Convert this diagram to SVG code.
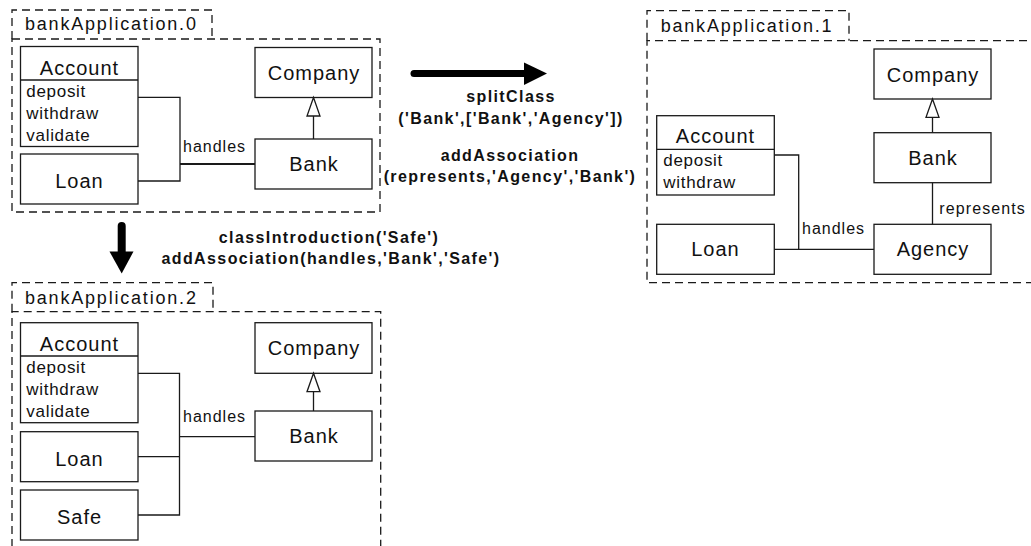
<svg xmlns="http://www.w3.org/2000/svg" width="1031" height="546" viewBox="0 0 1031 546">
  <style>
    .pkg { fill: none; stroke: #1a1a1a; stroke-width: 1.3; stroke-dasharray: 8 5; }
    .box { fill: #fff; stroke: #1a1a1a; stroke-width: 1.3; }
    .ln { fill: none; stroke: #1a1a1a; stroke-width: 1.3; }
    .tri { fill: #fff; stroke: #1a1a1a; stroke-width: 1.3; }
    text { font-family: "Liberation Sans", Arial, sans-serif; fill: #111; }
    .pname { font-size: 18px; letter-spacing: 1.8px; }
    .cname { font-size: 20px; letter-spacing: 1px; text-anchor: middle; }
    .op { font-size: 17px; letter-spacing: 0.7px; }
    .assoc { font-size: 16px; letter-spacing: 1px; }
    .op-title { font-size: 16px; font-weight: bold; letter-spacing: 1.4px; text-anchor: middle; }
  </style>

  <!-- package bankApplication.0 -->
  <g id="pkg0">
    <path class="pkg" d="M12,39 V10 H212 V39"/>
    <rect class="pkg" x="12" y="39" width="368" height="173"/>
    <text class="pname" x="25" y="30">bankApplication.0</text>
  </g>
  <g id="p0-account">
    <rect class="box" x="20.5" y="46.5" width="117.5" height="100"/>
    <line class="ln" x1="20.5" y1="80" x2="138" y2="80"/>
    <text class="cname" x="79.5" y="74.7">Account</text>
    <text class="op" x="26.3" y="97">deposit</text>
    <text class="op" x="26.3" y="119">withdraw</text>
    <text class="op" x="26.3" y="141">validate</text>
  </g>
  <g id="p0-loan">
    <rect class="box" x="20.5" y="154" width="117.5" height="50"/>
    <text class="cname" x="79.5" y="188.3">Loan</text>
  </g>
  <g id="p0-company">
    <rect class="box" x="255" y="47.5" width="117" height="50"/>
    <text class="cname" x="314" y="80">Company</text>
  </g>
  <g id="p0-bank">
    <rect class="box" x="255" y="139" width="117" height="50"/>
    <text class="cname" x="314" y="170.7">Bank</text>
  </g>

  <!-- package bankApplication.1 -->
  <g id="pkg1">
    <path class="pkg" d="M647,40.7 V10.7 H849 V40.7"/>
    <path class="pkg" d="M1040,40.7 H647 V282.7 H1040"/>
    <text class="pname" x="660.7" y="31.7">bankApplication.1</text>
  </g>
  <g id="p1-company">
    <rect class="box" x="874" y="49" width="117" height="50"/>
    <text class="cname" x="933" y="81.5">Company</text>
  </g>
  <g id="p1-bank">
    <rect class="box" x="874" y="132.7" width="117" height="50"/>
    <text class="cname" x="933" y="165">Bank</text>
  </g>
  <g id="p1-agency">
    <rect class="box" x="874" y="224.3" width="117" height="50"/>
    <text class="cname" x="933" y="256">Agency</text>
  </g>
  <g id="p1-account">
    <rect class="box" x="656.7" y="115.7" width="117.6" height="79.3"/>
    <line class="ln" x1="656.7" y1="149.3" x2="774.3" y2="149.3"/>
    <text class="cname" x="715.5" y="142.7">Account</text>
    <text class="op" x="663.3" y="165.7">deposit</text>
    <text class="op" x="663.3" y="187.7">withdraw</text>
  </g>
  <g id="p1-loan">
    <rect class="box" x="656.7" y="224.3" width="117.6" height="50"/>
    <text class="cname" x="715.5" y="256.3">Loan</text>
  </g>

  <!-- package bankApplication.2 -->
  <g id="pkg2">
    <path class="pkg" d="M12,311.7 V282.7 H213 V311.7"/>
    <path class="pkg" d="M12,560 V311.7 H380.7 V560"/>
    <text class="pname" x="25" y="304">bankApplication.2</text>
  </g>
  <g id="p2-account">
    <rect class="box" x="20.5" y="322.7" width="117.5" height="100"/>
    <line class="ln" x1="20.5" y1="356" x2="138" y2="356"/>
    <text class="cname" x="79.5" y="350.9">Account</text>
    <text class="op" x="26.3" y="373.2">deposit</text>
    <text class="op" x="26.3" y="395.2">withdraw</text>
    <text class="op" x="26.3" y="417.2">validate</text>
  </g>
  <g id="p2-loan">
    <rect class="box" x="20.5" y="431.7" width="117.5" height="50"/>
    <text class="cname" x="79.5" y="466">Loan</text>
  </g>
  <g id="p2-safe">
    <rect class="box" x="20.5" y="490" width="117.5" height="50"/>
    <text class="cname" x="79.5" y="524.3">Safe</text>
  </g>
  <g id="p2-company">
    <rect class="box" x="255" y="322.7" width="117" height="50.6"/>
    <text class="cname" x="314" y="355.3">Company</text>
  </g>
  <g id="p2-bank">
    <rect class="box" x="255" y="411" width="117" height="50"/>
    <text class="cname" x="314" y="442.7">Bank</text>
  </g>

  <!-- connectors: associations, generalizations, transformation arrows -->
  <g id="connectors">
    <!-- bankApplication.0 -->
    <path class="ln" d="M138,97.3 H180 V181 H138"/>
    <path class="ln" d="M180,164 H255" style="stroke-width:2"/>
    <text class="assoc" x="183" y="152">handles</text>
    <line class="ln" x1="313.5" y1="116" x2="313.5" y2="139"/>
    <path class="tri" d="M313.5,97.5 L307,116 H320 Z"/>

    <!-- bankApplication.1 -->
    <path class="ln" d="M774.3,155 H798.7 V249.3"/>
    <path class="ln" d="M774.3,249.3 H874"/>
    <text class="assoc" x="802" y="234">handles</text>
    <line class="ln" x1="932.5" y1="182.7" x2="932.5" y2="224.3"/>
    <text class="assoc" x="939.3" y="214.3" style="letter-spacing:1.1px">represents</text>
    <line class="ln" x1="932.5" y1="117.3" x2="932.5" y2="132.7"/>
    <path class="tri" d="M932.5,99 L926,117.3 H939 Z"/>

    <!-- bankApplication.2 -->
    <path class="ln" d="M138,373.3 H179.5 V515 H138"/>
    <path class="ln" d="M138,456.7 H179.5"/>
    <path class="ln" d="M179.5,436.7 H255"/>
    <text class="assoc" x="183" y="421.7">handles</text>
    <line class="ln" x1="313.5" y1="391.7" x2="313.5" y2="411"/>
    <path class="tri" d="M313.5,373.3 L307,391.7 H320 Z"/>

    <!-- transformation 0 -> 1 -->
    <line x1="414" y1="73.5" x2="526" y2="73.5" stroke="#000" stroke-width="7" stroke-linecap="round"/>
    <path d="M524,62.5 L547,73.5 L524,85 Z" fill="#000"/>
    <text class="op-title" x="511" y="101.7">splitClass</text>
    <text class="op-title" x="511" y="123.5">('Bank',['Bank','Agency'])</text>
    <text class="op-title" x="510" y="161">addAssociation</text>
    <text class="op-title" x="510" y="181.5">(represents,'Agency','Bank')</text>

    <!-- transformation 0 -> 2 -->
    <line x1="121.7" y1="226" x2="121.7" y2="254" stroke="#000" stroke-width="8" stroke-linecap="round"/>
    <path d="M109.5,251.5 L133.5,251.5 L121.7,273.5 Z" fill="#000"/>
    <text class="op-title" x="329" y="243.3">classIntroduction('Safe')</text>
    <text class="op-title" x="331" y="264.3">addAssociation(handles,'Bank','Safe')</text>
  </g>
</svg>
